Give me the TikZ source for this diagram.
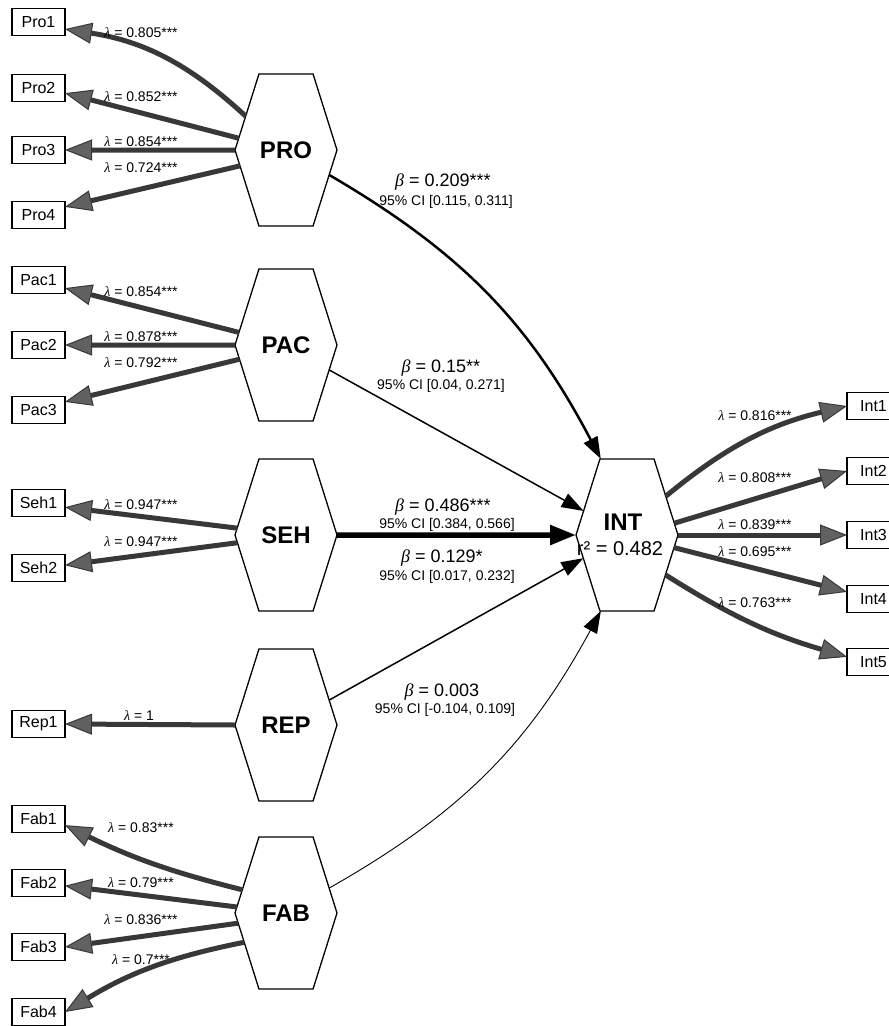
\documentclass[tikz,border=0pt]{standalone}
\usepackage{fontspec}
\setmainfont{Liberation Sans}
\newfontfamily\grkfont{Liberation Serif}
\newcommand{\lam}{{\grkfont\itshape λ}}
\newcommand{\bet}{{\grkfont\itshape β}}
\usetikzlibrary{arrows.meta,shapes.symbols}

\begin{document}
\begin{tikzpicture}[x=1pt,y=-1pt,
  latent/.style={draw, line width=1.3pt, signal, signal to=west and east,
    signal pointer angle=145, minimum width=102pt, minimum height=152pt,
    inner sep=0pt, outer sep=0pt, fill=white,
    font=\bfseries\fontsize{24}{28}\selectfont},
  indicator/.style={draw, line width=1.3pt, rectangle, fill=white,
    minimum width=53pt, minimum height=27pt, inner sep=0pt, outer sep=0pt,
    font=\fontsize{16}{18}\selectfont},
  load/.style={draw=black!78, line width=5pt,
    -{Triangle[length=27pt,width=21pt,fill=black!62,line width=1pt]}},
  regpath/.style={draw=black, -{Triangle[length=22pt,width=15pt]}},
  lam/.style={inner sep=0pt, font=\fontsize{14}{16}\selectfont},
  betalbl/.style={inner sep=0pt, font=\fontsize{18}{20}\selectfont},
  cilbl/.style={inner sep=0pt, font=\fontsize{14}{16}\selectfont}]

\clip (0,0) rectangle (889,1026);
\fill[white] (0,0) rectangle (889,1026);

% latent constructs
\node[latent] (PRO) at (286,150) {PRO};
\node[latent] (PAC) at (286,345) {PAC};
\node[latent] (SEH) at (286,535) {SEH};
\node[latent] (REP) at (286,725) {REP};
\node[latent] (FAB) at (286,913) {FAB};
\node[latent] (INT) at (627,535) {};
\node[inner sep=0pt, font=\bfseries\fontsize{24}{28}\selectfont] (INTname) at (623,522) {INT};
\node[inner sep=0pt, font=\fontsize{20}{22}\selectfont] (INTr2) at (620,549) {r² = 0.482};

% indicators
\node[indicator] (Pro1) at (38.5,22) {Pro1};
\node[indicator] (Pro2) at (38.5,88) {Pro2};
\node[indicator] (Pro3) at (38.5,150) {Pro3};
\node[indicator] (Pro4) at (38.5,215) {Pro4};
\node[indicator] (Pac1) at (38.5,280) {Pac1};
\node[indicator] (Pac2) at (38.5,345) {Pac2};
\node[indicator] (Pac3) at (38.5,410) {Pac3};
\node[indicator] (Seh1) at (38.5,503) {Seh1};
\node[indicator] (Seh2) at (38.5,568) {Seh2};
\node[indicator] (Rep1) at (38.5,724) {Rep1};
\node[indicator] (Fab1) at (38.5,819) {Fab1};
\node[indicator] (Fab2) at (38.5,883) {Fab2};
\node[indicator] (Fab3) at (38.5,947) {Fab3};
\node[indicator] (Fab4) at (38.5,1012) {Fab4};
\node[indicator] (Int1) at (873.5,406) {Int1};
\node[indicator] (Int2) at (873.5,471) {Int2};
\node[indicator] (Int3) at (873.5,535) {Int3};
\node[indicator] (Int4) at (873.5,599) {Int4};
\node[indicator] (Int5) at (873.5,662) {Int5};

% outer loadings
\draw[load] (PRO.140) to[bend right=17] (Pro1.-15);
\draw[load] (PRO.166) -- (Pro2.-11);
\draw[load] (PRO.180) -- (Pro3.east);
\draw[load] (PRO.199) -- (Pro4.17);
\draw[load] (PAC.165) -- (Pac1.-17);
\draw[load] (PAC.180) -- (Pac2.east);
\draw[load] (PAC.197) -- (Pac3.17);
\draw[load] (SEH.172) -- (Seh1.-9);
\draw[load] (SEH.189) -- (Seh2.6);
\draw[load] (REP.180) -- (Rep1.east);
\draw[load] (FAB.152) to[bend left=6] (Fab1.-13);
\draw[load] (FAB.173) -- (Fab2.-6);
\draw[load] (FAB.192) -- (Fab3.east);
\draw[load] (FAB.215) to[bend right=10] (Fab4.east);
\draw[load] (INT.45) to[bend left=13] (Int1.west);
\draw[load] (INT.14) -- (Int2.west);
\draw[load] (INT.0) -- (Int3.west);
\draw[load] (INT.-15) -- (Int4.165);
\draw[load] (INT.-46) to[bend right=8] (Int5.169);

% structural paths
\draw[regpath, line width=2.5pt] (PRO.-30) to[bend left=16] (INT.109);
\draw[regpath, line width=1.5pt] (PAC.-30) -- (INT.151);
\draw[draw=black, line width=5.5pt, -{Triangle[length=26pt,width=19pt]}] (SEH.0) -- (INT.180);
\draw[regpath, line width=1.5pt] (REP.30) -- (INT.208);
\draw[regpath, line width=0.9pt] (FAB.30) to[bend right=16] (INT.251);

% loading labels
\node[lam] (lPro1) at (141,33) {\lam{} = 0.805***};
\node[lam] (lPro2) at (141,97) {\lam{} = 0.852***};
\node[lam] (lPro3) at (141,142) {\lam{} = 0.854***};
\node[lam] (lPro4) at (141,168) {\lam{} = 0.724***};
\node[lam] (lPac1) at (141,292) {\lam{} = 0.854***};
\node[lam] (lPac2) at (141,337) {\lam{} = 0.878***};
\node[lam] (lPac3) at (141,363) {\lam{} = 0.792***};
\node[lam] (lSeh1) at (141,505) {\lam{} = 0.947***};
\node[lam] (lSeh2) at (141,542) {\lam{} = 0.947***};
\node[lam] (lRep1) at (139,716) {\lam{} = 1};
\node[lam] (lFab1) at (141,828) {\lam{} = 0.83***};
\node[lam] (lFab2) at (141,883) {\lam{} = 0.79***};
\node[lam] (lFab3) at (141,920) {\lam{} = 0.836***};
\node[lam] (lFab4) at (141,960) {\lam{} = 0.7***};
\node[lam] (lInt1) at (755,416) {\lam{} = 0.816***};
\node[lam] (lInt2) at (755,478) {\lam{} = 0.808***};
\node[lam] (lInt3) at (755,525) {\lam{} = 0.839***};
\node[lam] (lInt4) at (755,552) {\lam{} = 0.695***};
\node[lam] (lInt5) at (755,603) {\lam{} = 0.763***};

% path coefficients
\node[betalbl] (bPRO) at (443,182) {\bet{} = 0.209***};
\node[cilbl] (cPRO) at (446,202) {95\% CI [0.115, 0.311]};
\node[betalbl] (bPAC) at (441,368) {\bet{} = 0.15**};
\node[cilbl] (cPAC) at (441,386) {95\% CI [0.04, 0.271]};
\node[betalbl] (bSEH) at (443,507) {\bet{} = 0.486***};
\node[cilbl] (cSEH) at (447,525) {95\% CI [0.384, 0.566]};
\node[betalbl] (bREP) at (442,558) {\bet{} = 0.129*};
\node[cilbl] (cREP) at (447,577) {95\% CI [0.017, 0.232]};
\node[betalbl] (bFAB) at (442,692) {\bet{} = 0.003};
\node[cilbl] (cFAB) at (445,710) {95\% CI [-0.104, 0.109]};
\end{tikzpicture}
\end{document}
